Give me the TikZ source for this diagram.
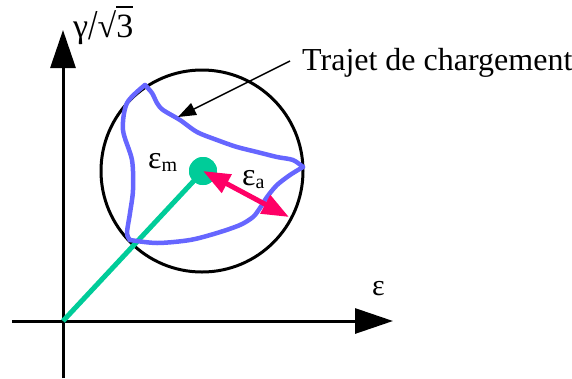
\documentclass[tikz,border=0pt]{standalone}
\usepackage{fontspec}
\setmainfont{Liberation Serif}
\usetikzlibrary{arrows.meta}
\definecolor{blueline}{RGB}{102,102,255}
\definecolor{greenline}{RGB}{0,204,153}
\definecolor{pinkline}{RGB}{255,0,102}
\begin{document}
\begin{tikzpicture}[x=1pt,y=-1pt,
  axisline/.style={line width=3pt,-{Triangle[length=38pt,width=25pt]}},
  lbl/.style={inner sep=0pt,anchor=base west},
  bigtext/.style={font=\fontsize{32}{32}\selectfont},
  pathline/.style={blueline,line width=4.5pt,line join=round,line cap=round}]
\useasboundingbox (0,0) rectangle (572,378);
% axes
\coordinate (O) at (63,321);
\coordinate (ybot) at (63,378);
\coordinate (ytop) at (63,30);
\coordinate (xstart) at (12,321);
\coordinate (xend) at (393,321);
\draw[axisline] (ybot) -- (ytop);
\draw[axisline] (xstart) -- (xend);
% circle and mean point
\node[circle,draw,line width=3pt,minimum size=202pt,inner sep=0pt] (C) at (202,171) {};
\node[circle,fill=greenline,minimum size=28pt,inner sep=0pt] (M) at (203,171) {};
\draw[greenline,line width=5pt] (O) -- (M.center);
% loading path
\draw[pathline] plot[smooth,tension=0.5] coordinates {(145,85) (127,103) (123,130) (132,160) (133,190) (130,213) (127,233) (130,240)};
\draw[pathline] plot[smooth,tension=0.5] coordinates {(130,240) (157,243) (190,240) (217,233) (240,225) (253,217) (260,208) (267,197) (277,185) (290,175) (303,167)};
\draw[pathline] plot[smooth,tension=0.5] coordinates {(303,167) (293,160) (277,157) (257,152) (237,147) (217,140) (197,132) (180,120) (163,110) (157,103) (152,93) (145,85)};
\node[circle,fill=greenline,minimum size=28pt,inner sep=0pt] at (203,171) {};
% amplitude arrow
\coordinate (A) at (289,217);
\draw[pinkline,line width=5pt,{Triangle[length=27pt,width=20pt]}-{Triangle[length=27pt,width=20pt]}] (M.center) -- (A);
% labels
\node[lbl,bigtext] (T) at (302,70.5) {Trajet de chargement};
\coordinate (tstart) at (290,61);
\coordinate (ttip) at (178,117);
\draw[line width=1.5pt,-{Triangle[length=18pt,width=13pt]}] (tstart) -- (ttip);
\node[lbl,font=\fontsize{30}{30}\selectfont] (eps) at (372,295) {ε};
\node[lbl,font=\fontsize{32}{32}\selectfont] (em) at (148,168) {ε\raisebox{-3pt}{\fontsize{20}{20}\selectfont m}};
\node[lbl,font=\fontsize{32}{32}\selectfont] (ea) at (242,185) {ε\raisebox{-3pt}{\fontsize{20}{20}\selectfont a}};
\node[lbl,font=\fontsize{34}{34}\selectfont] (g) at (73,37) {γ\raisebox{-0.08em}{\scalebox{1}[1.25]{/}}√\rlap{\rule[0.86em]{0.5em}{0.045em}}3};
\end{tikzpicture}
\end{document}
